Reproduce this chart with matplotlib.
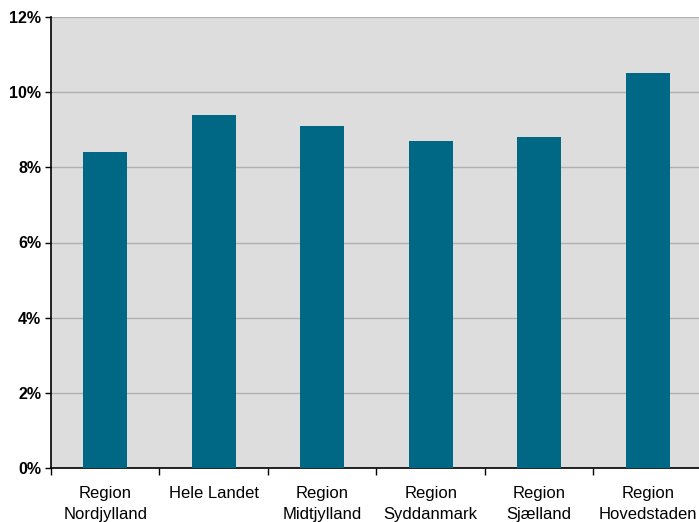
import matplotlib.pyplot as plt
import numpy as np

# Data
categories = ['Region\nNordjylland', 'Hele Landet', 'Region\nMidtjylland',
              'Region\nSyddanmark', 'Region\nSjælland', 'Region\nHovedstaden']
values = [8.4, 9.4, 9.1, 8.7, 8.8, 10.5]
y_ticks = [0, 2, 4, 6, 8, 10, 12]
y_tick_labels = ['0%', '2%', '4%', '6%', '8%', '10%', '12%']

plt.rcParams['font.family'] = ['Liberation Sans', 'DejaVu Sans']

fig = plt.figure(figsize=(6.99, 5.22), dpi=100)
ax = fig.add_axes([51 / 699, 54 / 522, 651 / 699, 451 / 522])
ax.set_facecolor('#dddddd')

x = np.arange(len(categories))
ax.bar(x, values, width=0.41, color='#006884', zorder=3)

ax.set_xlim(-0.5, len(categories) - 0.5)
ax.set_ylim(0, 12)

ax.set_yticks(y_ticks)
ax.set_yticklabels(y_tick_labels, fontsize=11.5, fontweight='bold')
ax.yaxis.grid(True, color='#b0b0b0', linewidth=1.0, zorder=1)
ax.tick_params(axis='y', direction='out', length=4, width=1, pad=3)

# Ticks between categories, labels centered under bars
ax.set_xticks(np.arange(-0.5, len(categories), 1.0))
ax.set_xticklabels([])
ax.set_xticks(x, minor=True)
ax.set_xticklabels(categories, minor=True, fontsize=12)
for lbl in ax.get_xticklabels(minor=True):
    lbl.set_linespacing(1.5)
ax.tick_params(axis='x', which='major', direction='out', length=5, width=1)
ax.tick_params(axis='x', which='minor', length=0, pad=13)

for side in ['top', 'right']:
    ax.spines[side].set_visible(False)
ax.spines['left'].set_linewidth(1.2)
ax.spines['bottom'].set_linewidth(1.2)

plt.savefig('out.png', dpi=100)
